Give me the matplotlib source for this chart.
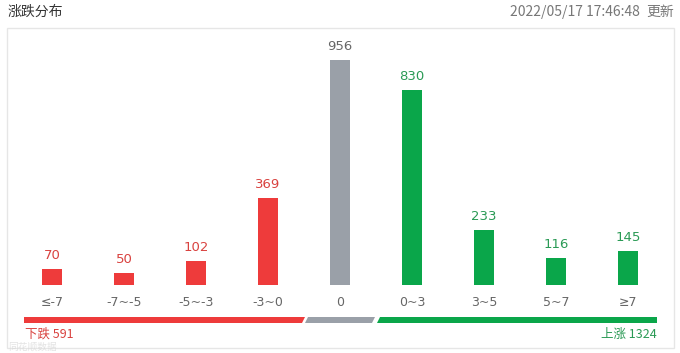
import matplotlib
matplotlib.use('Agg')
import matplotlib.pyplot as plt
from matplotlib.patches import Polygon, Rectangle

plt.rcParams['font.family'] = ['Noto Sans CJK SC', 'DejaVu Sans']

categories = ['≤-7', '-7~-5', '-5~-3', '-3~0', '0', '0~3', '3~5', '5~7', '≥7']
counts = [70, 50, 102, 369, 956, 830, 233, 116, 145]
groups = ['down', 'down', 'down', 'down', 'flat', 'up', 'up', 'up', 'up']
down_total = 591
up_total = 1324
title = '涨跌分布'
stamp = '2022/05/17 17:46:48'

bar_colors = {'down': '#ee3b3b', 'flat': '#9aa0a8', 'up': '#0aa64a'}
text_colors = {'down': '#d9423f', 'flat': '#666666', 'up': '#2a9a55'}

W, H = 680, 353
fig = plt.figure(figsize=(W / 100, H / 100), dpi=100)
fig.patch.set_facecolor('white')

def fx(px):
    return px / W

def fy(py):
    return 1 - py / H

# panel border
fig.patches.append(Rectangle((fx(7), fy(348)), fx(674) - fx(7), fy(28) - fy(348),
                             transform=fig.transFigure, fill=False,
                             edgecolor='#e6e6e6', linewidth=1))

fig.text(fx(8), fy(12), title, fontsize=10, color='#333333', va='center', ha='left')
fig.text(fx(640), fy(12), stamp, fontsize=10, color='#777777', va='center', ha='right')
fig.text(fx(674), fy(12), '更新', fontsize=10, color='#777777', va='center', ha='right')

# bar axes: centres at 52 + 72*i px, baseline at y=285 px
ymax = 1100
ax_h = ymax * 225 / 956
ax = fig.add_axes([fx(16), fy(285), 648 / W, ax_h / H])
x = list(range(len(categories)))
ax.bar(x, counts, width=20 / 72, color=[bar_colors[g] for g in groups])
for xi, c, g in zip(x, counts, groups):
    ax.annotate(str(c), (xi, c), xytext=(0, 5), textcoords='offset points',
                ha='center', va='bottom', fontsize=9.5, color=text_colors[g],
                family=['DejaVu Sans'])
ax.set_xlim(-0.5, len(categories) - 0.5)
ax.set_ylim(0, ymax)
ax.set_xticks(x)
ax.set_xticklabels(categories, fontsize=9, color='#666666', family=['DejaVu Sans'])
ax.tick_params(axis='x', length=0, pad=8)
ax.set_yticks([])
for s in ax.spines.values():
    s.set_visible(False)
ax.patch.set_alpha(0)

# summary strip
def strip(pts, color):
    fig.patches.append(Polygon([(fx(a), fy(b)) for a, b in pts], closed=True,
                               transform=fig.transFigure, facecolor=color,
                               edgecolor='none'))

strip([(24, 317), (305, 317), (302, 323), (24, 323)], bar_colors['down'])
strip([(308, 317), (375, 317), (372, 323), (305, 323)], bar_colors['flat'])
strip([(380, 317), (657, 317), (657, 323), (377, 323)], bar_colors['up'])

fig.text(fx(25), fy(334), f'下跌 {down_total}', fontsize=9, color='#d9423f',
         va='center', ha='left')
fig.text(fx(657), fy(334), f'上涨 {up_total}', fontsize=9, color='#2a9a55',
         va='center', ha='right')
fig.text(fx(8), fy(347), '同花顺数据', fontsize=7, color='#d8d8d8', alpha=0.7,
         va='center', ha='left')

fig.savefig('out.png', dpi=100, facecolor='white')
